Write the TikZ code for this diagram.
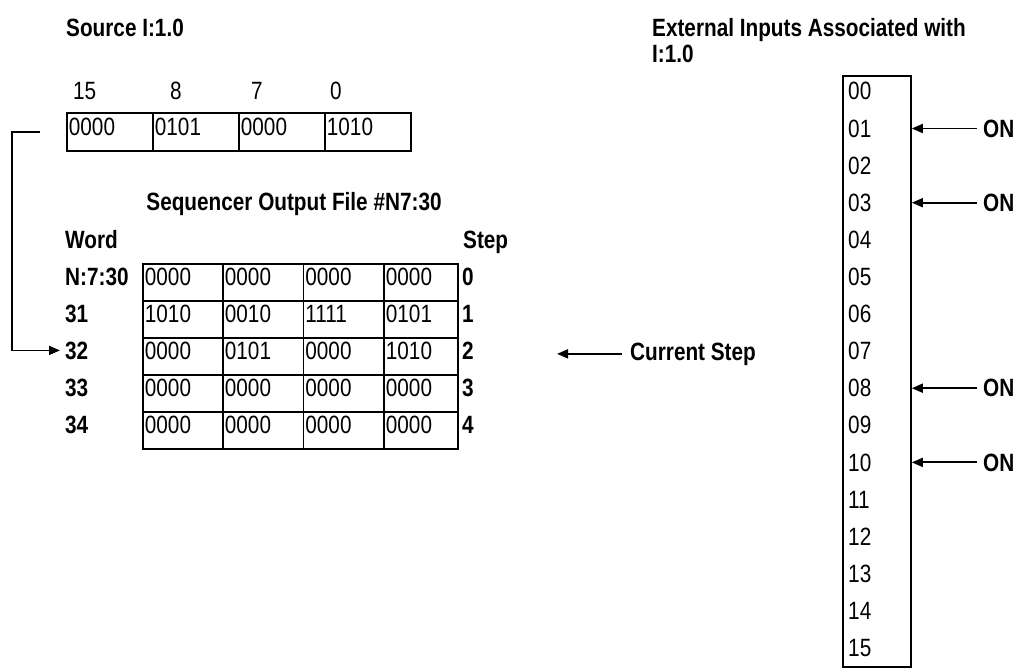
\documentclass[tikz,border=0pt]{standalone}
\usepackage{fontspec}
\setmainfont{Liberation Sans}[FakeStretch=0.83]
\usetikzlibrary{arrows.meta,positioning}
\tikzset{>={Triangle[length=11pt,width=9pt]},
  txt/.style={inner sep=0pt,anchor=base west,font=\fontsize{25}{29}\selectfont},
  hdr/.style={txt,font=\fontsize{25}{29}\selectfont\bfseries},
  cell/.style={draw,line width=1.8pt,anchor=north west,inner xsep=2pt,inner ysep=0pt,
    minimum width=80.5pt,minimum height=37pt,text height=15pt,text depth=8pt,
    text width=76.5pt,align=left,font=\fontsize{25}{29}\selectfont},
  srccell/.style={cell,minimum width=86pt,minimum height=38pt,text width=82pt},
  flow/.style={->,line width=1.8pt}}
\begin{document}
\begin{tikzpicture}[x=1pt,y=-1pt]
  \useasboundingbox (0,0) rectangle (1027,668);
  % source word
  \node[hdr] (src-title) at (66,37) {Source I:1.0};
  \foreach \b/\x [count=\i from 0] in {15/73,8/170,7/251,0/330}
    \node[txt] (bit-\i) at (\x,100) {\b};
  \foreach \v [count=\i from 0] in {0000,0101,0000,1010}
    \node[srccell] (s-\i) at ({66+86*\i},112) {\v};
  % sequencer output file
  \node[hdr,anchor=base] (seq-title) at (294,211) {Sequencer Output File \#N7:30};
  \node[hdr] (word) at (65,248) {Word};
  \node[hdr] (step) at (463,248) {Step};
  \foreach \r/\w/\a/\b/\c/\d in {0/N:7:30/0000/0000/0000/0000,1/31/1010/0010/1111/0101,
      2/32/0000/0101/0000/1010,3/33/0000/0000/0000/0000,4/34/0000/0000/0000/0000}{
    \node[hdr] (w-\r) at (65,{263+37*\r+22}) {\w};
    \node[hdr] (n-\r) at (462,{263+37*\r+22}) {\r};
    \foreach \v/\x/\cw/\txw [count=\k from 0] in {\a/142/80/76,\b/222/80.5/76.5,
        \c/302.5/80.5/76.5,\d/383/74/70}
      \node[cell,minimum width=\cw pt,text width=\txw pt] (t-\r-\k) at (\x,{263+37*\r}) {\v};
  }
  \node[hdr] (cur) at (630,360) {Current Step};
  \coordinate[left=73pt of cur.west] (cur-tip);
  \draw[flow] ([xshift=-8pt]cur.west) -- (cur-tip);
  % source into word 32
  \coordinate[left=54pt of s-0.west] (jog);
  \draw[flow,shorten >=5pt] ([xshift=-26pt]s-0.west) -- (jog) |- (w-2.west);
  % external inputs
  \node[hdr] (in-title) at (652,37) {External Inputs Associated with};
  \node[hdr] (in-title2) at (652,63) {I:1.0};
  \node[draw,line width=1.8pt,anchor=north west,minimum width=68pt,minimum height=591pt,
    inner sep=0pt] (inbox) at (842,75) {};
  \foreach \i in {0,...,15}
    \node[txt] (in-\i) at (848,{100+37.1*\i}) {\ifnum\i<10 0\fi\i};
  \foreach \i in {1,3,8,10}{
    \node[hdr] (on-\i) at (983,{100+37.1*\i}) {ON};
    \draw[flow,shorten <=6pt] (on-\i.west) -- (on-\i.west -| inbox.east);
  }
\end{tikzpicture}
\end{document}
